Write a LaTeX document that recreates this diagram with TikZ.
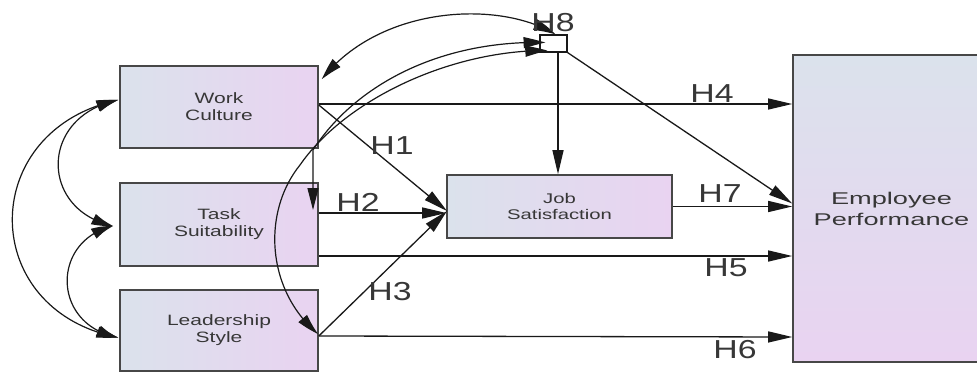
\documentclass[tikz,border=0pt]{standalone}
\usepackage{fontspec}
\setmainfont{Liberation Sans}
\usetikzlibrary{arrows.meta,calc,bending}
\definecolor{boxL}{RGB}{219,226,236}
\definecolor{boxR}{RGB}{233,211,241}
\definecolor{ink}{RGB}{25,25,25}
\definecolor{txt}{RGB}{55,55,55}
\newcommand\sx[2]{\scalebox{#1}[1]{#2}}
\begin{document}
\begin{tikzpicture}[x=1pt,y=-1pt,
  basebox/.style={draw=ink!80, line width=1.6pt, inner sep=0pt, text=txt, align=center},
  vbox/.style={basebox, left color=boxL, right color=boxR, font=\fontsize{15}{17}\selectfont},
  tbox/.style={basebox, top color=boxL, bottom color=boxR, font=\fontsize{17}{21}\selectfont},
  link/.style={draw=ink, line width=1.3pt, -{Triangle[length=24pt,width=11pt]}},
  dlink/.style={draw=ink, line width=1.2pt, {Triangle[length=22pt,width=11pt,bend]}-{Triangle[length=22pt,width=11pt,bend]}},
  hlab/.style={font=\fontsize{26}{26}\selectfont, text=txt, inner sep=0pt}
]
\clip (0,0) rectangle (977,372);
\fill[white] (0,0) rectangle (977,372);

% boxes
\node[vbox, minimum width=198pt, minimum height=82pt] (wc) at (219,107) {\sx{1.4}{Work}\\\sx{1.4}{Culture}};
\node[vbox, minimum width=198pt, minimum height=83pt] (ts) at (219,224.5) {\sx{1.4}{Task}\\\sx{1.4}{Suitability}};
\node[vbox, minimum width=198pt, minimum height=81pt] (ls) at (219,330.5) {\sx{1.4}{Leadership}\\\sx{1.4}{Style}};
\node[vbox, minimum width=225pt, minimum height=63pt, font=\fontsize{14}{16}\selectfont] (js) at (559.5,206.5) {\sx{1.45}{Job}\\\sx{1.45}{Satisfaction}};
\node[tbox, minimum width=197pt, minimum height=307pt] (ep) at (891.5,208.5) {\sx{1.6}{Employee}\\\sx{1.6}{Performance}};
\node[draw=ink, line width=1.2pt, minimum width=27pt, minimum height=17pt, inner sep=0pt] (h8) at (553.5,43.5) {};

% named free ends
\coordinate (tsin) at (313,210);
\coordinate (lsin) at (318,334);
\coordinate (jsin) at (447,211);

% direct paths
\draw[link] ([yshift=3pt]wc.east) -- ([yshift=3pt]wc.east -| ep.west);
\draw[link] ([yshift=2pt]wc.east) -- (jsin);
\draw[link] ([yshift=11.5pt]ts.east) -- ([yshift=11.5pt]ts.east -| js.west);
\draw[link] ([yshift=-31.5pt]ts.east) -- ([yshift=-31.5pt]ts.east -| ep.west);
\draw[link] ([yshift=-5.5pt]ls.east) -- (jsin);
\draw[link] ([yshift=-5.5pt]ls.east) -- ([yshift=-6.5pt]ls.east -| ep.west);
\draw[link] (js.east) -- (js.east -| ep.west);
\draw[link] ([xshift=4.5pt]h8.south) -- ([xshift=4.5pt]h8.south |- js.north);
\draw[link] (h8.south east) -- ([yshift=5pt]ep.west);

% curved paths from H8
\draw[dlink] ([xshift=2pt]h8.north) .. controls (500,0) and (380,5) .. ([xshift=3pt,yshift=-14pt]wc.north east);
\draw[dlink] ([xshift=6pt,yshift=1pt]h8.west) .. controls (440,40) and (355,85) .. (313,150) -- (tsin);
\draw[dlink] ([xshift=8pt,yshift=-7pt]h8.west) .. controls (450,50) and (345,100) .. (300,165) .. controls (262,212) and (266,290) .. (lsin);

% left covariance arcs
\draw[dlink] ([xshift=-1pt,yshift=7pt]wc.west) .. controls (39,116) and (39,210) .. ([xshift=-6pt,yshift=-1.5pt]ts.west);
\draw[dlink] ([xshift=-6pt,yshift=-1.5pt]ts.west) .. controls (51,240) and (51,325) .. ([xshift=-1pt,yshift=-7pt]ls.west);
\draw[dlink] ([xshift=-1pt,yshift=7pt]wc.west) .. controls (-23,130) and (-23,310) .. ([xshift=-1pt,yshift=-7pt]ls.west);

% labels
\node[hlab] (l1) at (392,146) {\sx{1.3}{H1}};
\node[hlab] (l2) at (358,202) {\sx{1.3}{H2}};
\node[hlab] (l3) at (390,292) {\sx{1.3}{H3}};
\node[hlab] (l4) at (712,94) {\sx{1.3}{H4}};
\node[hlab] (l5) at (726,268) {\sx{1.3}{H5}};
\node[hlab] (l6) at (735,350) {\sx{1.3}{H6}};
\node[hlab] (l7) at (720,194) {\sx{1.3}{H7}};
\node[hlab] (l8) at (553,23) {\sx{1.3}{H8}};
\end{tikzpicture}
\end{document}
